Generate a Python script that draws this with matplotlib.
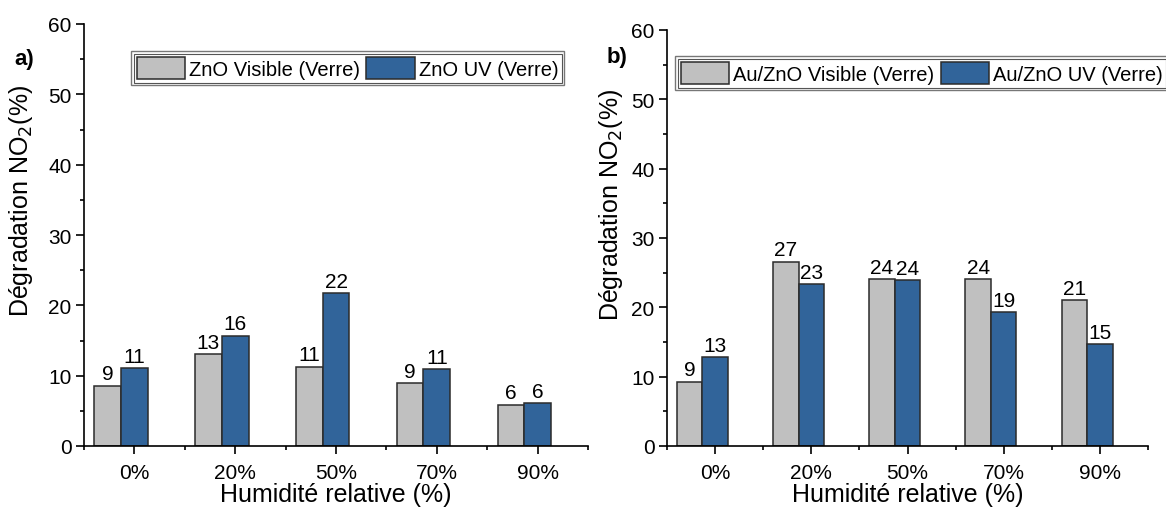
import matplotlib.pyplot as plt
import numpy as np
from matplotlib.patches import Rectangle
from matplotlib.ticker import MultipleLocator, FixedLocator

plt.rcParams['font.family'] = ['Liberation Sans', 'DejaVu Sans']

# données
humidite = ['0%', '20%', '50%', '70%', '90%']

zno_visible = [8.6, 13.1, 11.3, 8.9, 5.9]
zno_uv = [11.1, 15.7, 21.8, 10.9, 6.1]
zno_visible_lbl = [9, 13, 11, 9, 6]
zno_uv_lbl = [11, 16, 22, 11, 6]

auzno_visible = [9.3, 26.6, 24.1, 24.1, 21.0]
auzno_uv = [12.8, 23.4, 23.9, 19.3, 14.7]
auzno_visible_lbl = [9, 27, 24, 24, 21]
auzno_uv_lbl = [13, 23, 24, 19, 15]

gris = '#c0c0c0'
bleu = '#31649a'
bord = '#2b2b2b'

fig = plt.figure(figsize=(11.66, 5.1), dpi=100)
ax1 = fig.add_axes([84 / 1166, 63 / 510, 504 / 1166, 422 / 510])
ax2 = fig.add_axes([667 / 1166, 63 / 510, 481 / 1166, 416 / 510])


def panneau(ax, vis, uv, vis_lbl, uv_lbl, noms, ylab_xy):
    x = np.arange(len(humidite))
    w = 0.265
    # barres grises décalées à gauche, tick au centre de la barre bleue
    ax.bar(x - w, vis, width=w, color=gris, edgecolor=bord, linewidth=1.1, label=noms[0])
    ax.bar(x, uv, width=w, color=bleu, edgecolor=bord, linewidth=1.1, label=noms[1])
    for xi, v, l in zip(x, vis, vis_lbl):
        ax.text(xi - w, v + 0.3, str(l), ha='center', va='bottom', fontsize=15)
    for xi, v, l in zip(x, uv, uv_lbl):
        ax.text(xi, v + 0.3, str(l), ha='center', va='bottom', fontsize=15)

    ax.set_xlim(-0.5, 4.5)
    ax.set_ylim(0, 60)
    ax.set_xticks(x)
    ax.set_xticklabels(humidite)
    ax.xaxis.set_minor_locator(FixedLocator(np.arange(-0.5, 5, 1.0)))
    ax.yaxis.set_major_locator(MultipleLocator(10))
    ax.yaxis.set_minor_locator(MultipleLocator(5))
    ax.tick_params(axis='both', which='major', direction='out', length=6, width=1.2,
                   labelsize=15, pad=3)
    ax.tick_params(axis='both', which='minor', direction='out', length=3, width=1.2)
    ax.tick_params(axis='x', which='major', pad=6)
    for s in ['top', 'right']:
        ax.spines[s].set_visible(False)
    for s in ['left', 'bottom']:
        ax.spines[s].set_linewidth(1.2)
    ax.set_xlabel('Humidité relative (%)', fontsize=18, labelpad=0)
    ax.set_ylabel('Dégradation NO$_2$(%)', fontsize=18)
    ax.yaxis.set_label_coords(*ylab_xy)


panneau(ax1, zno_visible, zno_uv, zno_visible_lbl, zno_uv_lbl,
        ['ZnO Visible (Verre)', 'ZnO UV (Verre)'], (-0.097, 0.584))
panneau(ax2, auzno_visible, auzno_uv, auzno_visible_lbl, auzno_uv_lbl,
        ['Au/ZnO Visible (Verre)', 'Au/ZnO UV (Verre)'], (-0.088, 0.582))

fig.text(14 / 1166, 1 - 60 / 510, 'a)', fontsize=16, fontweight='bold', va='center')
fig.text(607 / 1166, 1 - 58 / 510, 'b)', fontsize=16, fontweight='bold', va='center')

legs = []
for ax, pos in [(ax1, (131 / 1166, 1 - 52 / 510)), (ax2, (675 / 1166, 1 - 57 / 510))]:
    leg = ax.legend(loc='upper left', bbox_to_anchor=pos, bbox_transform=fig.transFigure,
                    ncol=2, fontsize=14.5, frameon=True, fancybox=False, borderpad=0.3,
                    handlelength=2.4, handleheight=1.3, handletextpad=0.2,
                    columnspacing=0.3, borderaxespad=0)
    leg.get_frame().set_edgecolor('#555555')
    leg.get_frame().set_linewidth(1.0)
    legs.append(leg)

fig.canvas.draw()
for leg in legs:
    bb = leg.get_frame().get_window_extent()
    r = Rectangle((bb.x0 + 2.5, bb.y0 + 2.5), bb.width - 5, bb.height - 5,
                  transform=None, fill=False, edgecolor='#555555', linewidth=0.8, zorder=10)
    fig.add_artist(r)

fig.savefig('out.png', dpi=100)
